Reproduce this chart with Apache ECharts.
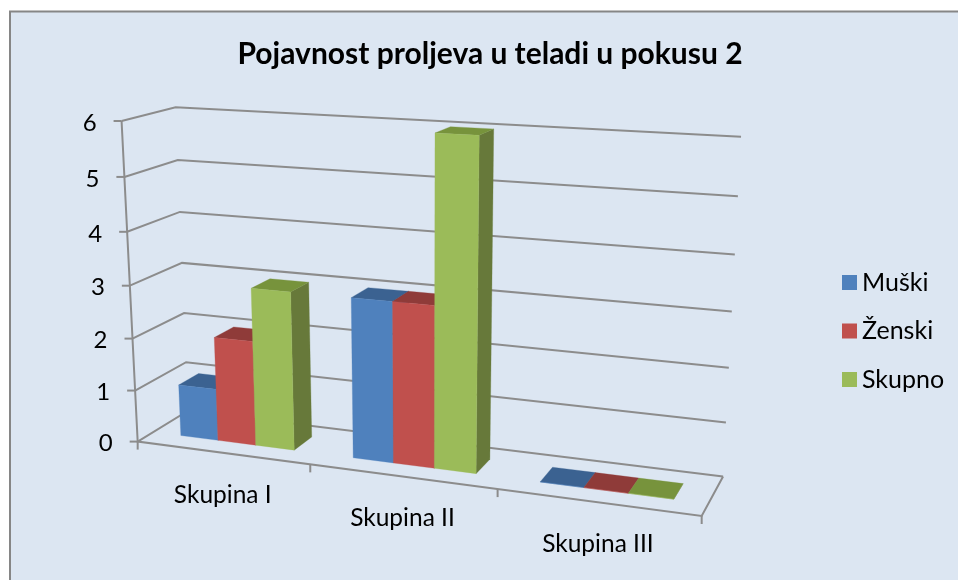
<!DOCTYPE html>
<html>
<head>
<meta charset="utf-8">
<style>html,body{margin:0;padding:0;background:#fff}#c{width:958px;height:580px}</style>
<script src="https://cdn.jsdelivr.net/npm/echarts@6/dist/echarts.min.js"></script>
</head>
<body>
<div id="c"></div>
<script>
// ---- data ----
const titleText = 'Pojavnost proljeva u teladi u pokusu 2';
const categories = ['Skupina I', 'Skupina II', 'Skupina III'];
const muski = [1, 3, 0];
const zenski = [2, 3, 0];
const skupno = [3, 6, 0];
const yTicks = [0, 1, 2, 3, 4, 5, 6];
const seriesNames = ['Muški', 'Ženski', 'Skupno'];
const seriesValues = [muski, zenski, skupno];
const faceColors = [
  {front: '#4F81BD', top: '#3B6291', side: '#385D8A'},
  {front: '#C0504D', top: '#8F3B39', side: '#8C3A38'},
  {front: '#9BBB59', top: '#77933C', side: '#67793A'}
];
const FONT = 'Lato, sans-serif';
const LINE = '#8C8C8C';

// ---- camera calibration: (across, height, depth) -> page px ----
const calib = [
  [0,6/6,0,121.7,121],[0,5/6,0,124.3,176.7],[0,4/6,0,127,232],[0,3/6,0,130,286],[0,2/6,0,132.5,338],[0,1/6,0,135,390],[0,0,0,138,441.7],
  [0,6/6,1,175.3,107.3],[0,5/6,1,178,160],[0,4/6,1,180,212],[0,3/6,1,182,263],[0,2/6,1,184,313],[0,1/6,1,186,362],[0,0,1,188,411],
  [1,6/6,1,741,136.7],[1,5/6,1,737.7,196.3],[1,4/6,1,735,254.3],[1,3/6,1,732,311.7],[1,1/6,1,726,422.7],[1,0,1,723,476],
  [1,0,0,701.7,516],[1/3,0,0,310.3,465],[2/3,0,0,497.3,489.3]
];
function solveCamera(pts) {
  const n = 11, A = [], b = [];
  for (let i = 0; i < n; i++) { A.push(new Array(n).fill(0)); b.push(0); }
  const add = (r, v) => { for (let i = 0; i < n; i++) { b[i] += r[i] * v; for (let j = 0; j < n; j++) A[i][j] += r[i] * r[j]; } };
  pts.forEach(([X, Y, Z, u, v]) => {
    u /= 1000; v /= 1000;
    add([X, Y, Z, 1, 0, 0, 0, 0, -u * X, -u * Y, -u * Z], u);
    add([0, 0, 0, 0, X, Y, Z, 1, -v * X, -v * Y, -v * Z], v);
  });
  for (let i = 0; i < n; i++) {
    let p = i;
    for (let r = i + 1; r < n; r++) if (Math.abs(A[r][i]) > Math.abs(A[p][i])) p = r;
    [A[i], A[p]] = [A[p], A[i]]; [b[i], b[p]] = [b[p], b[i]];
    for (let r = i + 1; r < n; r++) {
      const f = A[r][i] / A[i][i];
      for (let c = i; c < n; c++) A[r][c] -= f * A[i][c];
      b[r] -= f * b[i];
    }
  }
  const x = new Array(n).fill(0);
  for (let i = n - 1; i >= 0; i--) {
    let s = b[i];
    for (let c = i + 1; c < n; c++) s -= A[i][c] * x[c];
    x[i] = s / A[i][i];
  }
  return x;
}
const cam = solveCamera(calib);
function project(X, Y, Z) {
  const w = cam[8] * X + cam[9] * Y + cam[10] * Z + 1;
  return [1000 * (cam[0] * X + cam[1] * Y + cam[2] * Z + cam[3]) / w,
          1000 * (cam[4] * X + cam[5] * Y + cam[6] * Z + cam[7]) / w];
}
// library scale (hidden cartesian) -> normalised across/height
function norm(api, params, cat, val) {
  const p = api.coord([cat, val]), cs = params.coordSys;
  return [(p[0] - cs.x) / cs.width, 1 - (p[1] - cs.y) / cs.height];
}
const DEPTH_A = 0.3, DEPTH_B = 0.7, BAR_SHARE = 2 / 3;

const quad = (pts, fill) => ({type: 'polygon', shape: {points: pts}, style: {fill: fill, stroke: fill, lineWidth: 0.3}});
const line = (pts) => ({type: 'polyline', shape: {points: pts}, style: {stroke: LINE, lineWidth: 2, fill: null}, silent: true});

function barRenderer(si) {
  return function (params, api) {
    const cat = api.value(0), val = api.value(1);
    const n = norm(api, params, cat, val), cs = params.coordSys;
    const band = api.size([1, 0])[0] / cs.width;
    const w = band * BAR_SHARE / 3;
    const x0 = n[0] - band * BAR_SHARE / 2 + si * w, x1 = x0 + w, h = n[1];
    const a = DEPTH_A, b = DEPTH_B;
    const c = faceColors[si];
    return {type: 'group', children: [
      quad([project(x1, 0, a), project(x1, 0, b), project(x1, h, b), project(x1, h, a)], c.side),
      quad([project(x0, h, a), project(x1, h, a), project(x1, h, b), project(x0, h, b)], c.top),
      quad([project(x0, 0, a), project(x1, 0, a), project(x1, h, a), project(x0, h, a)], c.front)
    ]};
  };
}
function wallRenderer(params, api) {
  const t = norm(api, params, 0, api.value(0))[1];
  const f = project(0, t, 0);
  const kids = [
    line([f, project(0, t, 1), project(1, t, 1)]),
    line([[f[0] - 8, f[1]], f]),
    {type: 'text', style: {text: String(api.value(0)), x: f[0] - 25, y: f[1] + 2, align: 'right', verticalAlign: 'middle', font: '400 24px ' + FONT, fill: '#000'}}
  ];
  if (params.dataIndex === 0) {
    kids.push(line([project(0, 1, 0), project(0, 0, 0), project(1, 0, 0), project(1, 0, 1)]));
    [0, 1 / 3, 2 / 3, 1].forEach(s => { const p = project(s, 0, 0); kids.push(line([p, [p[0], p[1] + 8]])); });
  }
  return {type: 'group', children: kids};
}
function catLabelRenderer(params, api) {
  const n = norm(api, params, api.value(0), 0);
  const p = project(n[0], 0, 0);
  return {type: 'text', style: {text: categories[api.value(0)], x: p[0] + 0.5, y: p[1] + 42, align: 'center', verticalAlign: 'middle', font: '400 24.5px ' + FONT, fill: '#000'}};
}

const option = {
  animation: false,
  backgroundColor: '#fff',
  graphic: [{type: 'rect', z: -10, shape: {x: 10, y: 11.5, width: 970, height: 590}, style: {fill: '#DCE6F2', stroke: '#868686', lineWidth: 2}}],
  title: {text: titleText, left: 490, top: 34, textAlign: 'center', textStyle: {fontFamily: FONT, fontWeight: 700, fontSize: 30, color: '#000'}},
  legend: {
    data: seriesNames.map((name, i) => ({name: name, itemStyle: {color: faceColors[i].front}})),
    orient: 'vertical', left: 837, top: 265, itemWidth: 15, itemHeight: 15, itemGap: 23.5,
    icon: 'rect', selectedMode: false,
    textStyle: {fontFamily: FONT, fontSize: 25, lineHeight: 25, color: '#000', padding: [0, 0, 0, 0]}
  },
  grid: {left: 0, top: 0, width: 900, height: 600, show: false},
  xAxis: {type: 'category', data: categories, show: false},
  yAxis: {type: 'value', min: 0, max: 6, interval: 1, show: false},
  series: [
    {type: 'custom', name: 'axes', z: 1, clip: false, silent: true, renderItem: wallRenderer, data: yTicks.map(v => [v]), encode: {y: 0}},
    {type: 'custom', name: 'labels', z: 1, clip: false, silent: true, renderItem: catLabelRenderer, data: categories.map((c, i) => [i]), encode: {x: 0}}
  ].concat(seriesNames.map((name, si) => ({
    type: 'custom', name: name, z: 2 + si, clip: false, silent: true,
    itemStyle: {color: faceColors[si].front},
    renderItem: barRenderer(si),
    data: seriesValues[si].map((v, i) => [i, v]),
    encode: {x: 0, y: 1}
  })))
};
option.title.left = 485;
const chart = echarts.init(document.getElementById('c'), null, {renderer: 'canvas'});
chart.setOption(option);
</script>
</body>
</html>
